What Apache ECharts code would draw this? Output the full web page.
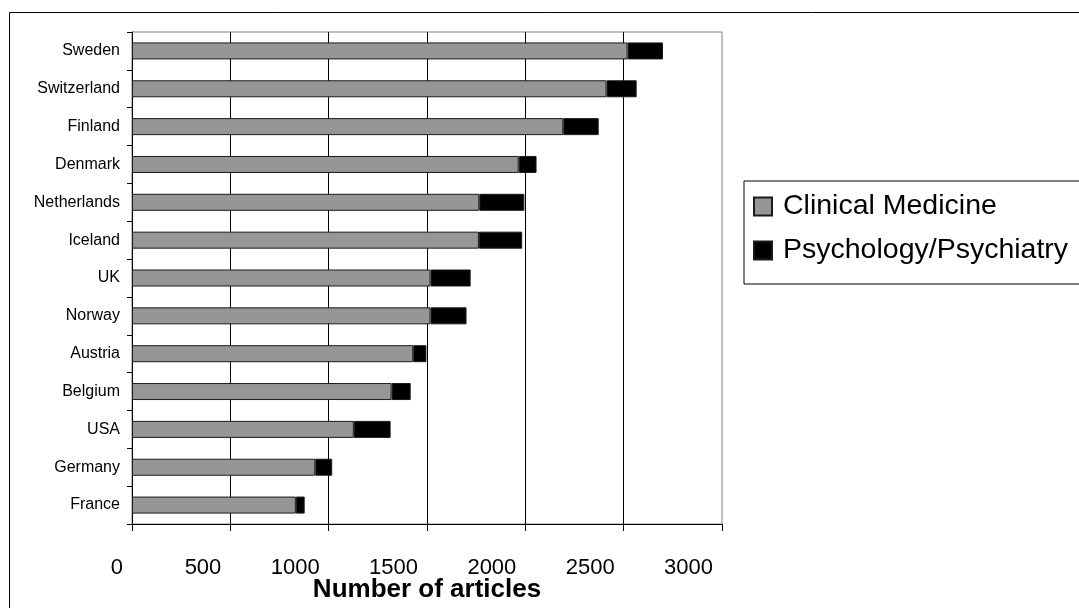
<!DOCTYPE html>
<html>
<head>
<meta charset="utf-8">
<script src="https://cdn.jsdelivr.net/npm/echarts@6/dist/echarts.min.js"></script>
<style>
html,body{margin:0;padding:0;background:#fff;}
#chart{width:1079px;height:608px;}
</style>
</head>
<body>
<div id="chart"></div>
<script>
const categories = ['Sweden','Switzerland','Finland','Denmark','Netherlands','Iceland','UK','Norway','Austria','Belgium','USA','Germany','France'];
const clinicalMedicine = [2520, 2413, 2193, 1966, 1766, 1764, 1518, 1518, 1430, 1320, 1128, 932, 833];
const psychology = [180, 153, 180, 91, 229, 220, 204, 183, 67, 97, 187, 86, 45];
const seriesNames = ['Clinical Medicine', 'Psychology/Psychiatry'];
const axisTitle = 'Number of articles';

const chart = echarts.init(document.getElementById('chart'), null, {renderer: 'canvas'});
const font = "'Liberation Sans', Arial, sans-serif";
chart.setOption({
  animation: false,
  backgroundColor: '#fff',
  textStyle: {fontFamily: font, color: '#000'},
  graphic: [{
    type: 'rect', silent: true, z: -10,
    shape: {x: 9.5, y: 12.5, width: 1200, height: 800},
    style: {fill: 'none', stroke: '#000', lineWidth: 1}
  }],
  grid: {
    left: 132, right: 357, top: 32, bottom: 84,
    outerBoundsMode: 'none', containLabel: false,
    show: true, borderColor: '#808080', borderWidth: 1, backgroundColor: 'transparent'
  },
  legend: {
    orient: 'vertical', left: 744, top: 181,
    itemWidth: 18, itemHeight: 18, itemGap: 15,
    padding: [11, 30, 19, 9],
    borderColor: '#000', borderWidth: 1, backgroundColor: '#fff',
    icon: 'rect',
    textStyle: {fontSize: 28.5, fontFamily: font, color: '#000', padding: [0, 0, 0, 6]},
    data: seriesNames
  },
  xAxis: {
    type: 'value', min: 0, max: 3000, interval: 500,
    name: axisTitle, nameLocation: 'middle', nameGap: 53, nameMoveOverlap: false,
    nameTextStyle: {fontSize: 26, fontWeight: 'bold', fontFamily: font, color: '#000'},
    axisLine: {show: true, lineStyle: {color: '#000', width: 1}},
    axisTick: {show: true, length: 7, lineStyle: {color: '#000'}},
    axisLabel: {
      fontSize: 22, color: '#000', fontFamily: font, align: 'right',
      padding: [0, 9, 0, 0], margin: 33,
      formatter: function (v) { return String(v); }
    },
    splitLine: {show: true, showMinLine: false, showMaxLine: false, lineStyle: {color: '#000', width: 1}}
  },
  yAxis: {
    type: 'category', data: categories, inverse: true,
    axisLine: {show: true, lineStyle: {color: '#000', width: 1}},
    axisTick: {show: true, length: 5, lineStyle: {color: '#000'}},
    axisLabel: {fontSize: 16, color: '#000', fontFamily: font, margin: 12},
    splitLine: {show: false}
  },
  series: [
    {
      name: seriesNames[0], type: 'bar', stack: 'total', data: clinicalMedicine,
      barWidth: 17,
      itemStyle: {color: '#969696', borderColor: '#1a1a1a', borderWidth: 1}
    },
    {
      name: seriesNames[1], type: 'bar', stack: 'total', data: psychology,
      barWidth: 17,
      itemStyle: {color: '#000000', borderColor: '#1a1a1a', borderWidth: 1}
    }
  ]
});
</script>
</body>
</html>
